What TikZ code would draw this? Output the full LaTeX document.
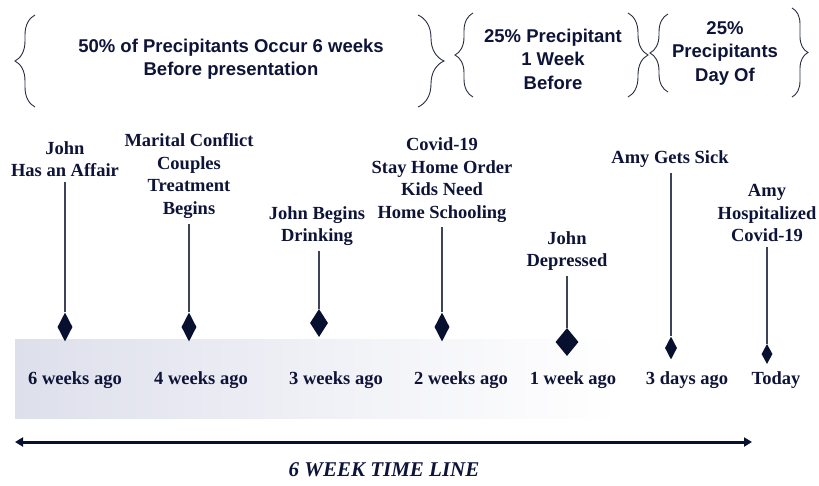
\documentclass[tikz,border=0pt]{standalone}
\usepackage{fontspec}
\setmainfont{Liberation Serif}
\newfontfamily\sansf{Liberation Sans}
\usetikzlibrary{shapes.geometric,decorations.pathreplacing,arrows.meta}
\definecolor{navy}{RGB}{14,19,56}
\definecolor{dmd}{RGB}{8,16,48}
\definecolor{stemc}{RGB}{62,68,88}
\definecolor{bracec}{RGB}{40,44,64}
\definecolor{band}{RGB}{221,223,235}
\tikzset{
  ev/.style={align=center,font=\fontsize{18.5}{22.5}\selectfont\bfseries,text=navy,inner sep=0pt,inner ysep=5pt},
  tl/.style={font=\fontsize{18.5}{22.5}\selectfont\bfseries,text=navy,inner sep=0pt},
  top/.style={align=center,font=\sansf\fontsize{18.5}{23.5}\selectfont\bfseries,text=navy,inner sep=0pt},
  dia/.style={diamond,fill=dmd,draw=none,inner sep=0pt},
  stem/.style={draw=stemc,line width=1.2pt},
  br/.style={draw=bracec,line width=0.9pt,decorate,decoration={brace,amplitude=#1,aspect=0.5}}
}
\begin{document}
\begin{tikzpicture}[x=1pt,y=-1pt]
\useasboundingbox (0,0) rectangle (819,485);
% band
\shade[left color=band,right color=white,middle color=band!45!white] (15,339) rectangle (620,418);
% braces
\draw[br=20] (35,107) -- (35,15);
\draw[br=26] (418,15) -- (418,107);
\draw[br=18] (473,97) -- (473,13);
\draw[br=20] (628,13) -- (628,97);
\draw[br=18] (668,92) -- (668,14);
\draw[br=16] (792,8) -- (792,97);
% top texts
\node[top] (g1) at (231,59) {50\% of Precipitants Occur 6 weeks\\Before presentation};
\node[top] (g2) at (553,59) {25\% Precipitant\\1 Week\\Before};
\node[top] (g3) at (725,53) {25\%\\Precipitants\\Day Of};
% diamonds
\node[dia,minimum width=15pt,minimum height=29pt] (d1) at (65,327) {};
\node[dia,minimum width=15pt,minimum height=29pt] (d2) at (189,327) {};
\node[dia,minimum width=18pt,minimum height=28pt] (d3) at (319,323) {};
\node[dia,minimum width=15pt,minimum height=29pt] (d4) at (442,327) {};
\node[dia,minimum width=23pt,minimum height=28pt] (d5) at (567,342) {};
\node[dia,minimum width=12pt,minimum height=23pt] (d6) at (671,348) {};
\node[dia,minimum width=11pt,minimum height=20pt] (d7) at (767,354) {};
% event labels
\node[ev] (e1) at (65,159) {John\\Has an Affair};
\node[ev] (e2) at (189,176) {Marital Conflict\\Couples\\Treatment\\Begins};
\node[ev] (e3) at (317,226) {John Begins\\Drinking};
\node[ev] (e4) at (442,180) {Covid-19\\Stay Home Order\\Kids Need\\Home Schooling};
\node[ev] (e5) at (567,251) {John\\Depressed};
\node[ev] (e6) at (670,159) {Amy Gets Sick};
\node[ev] (e7) at (767,213) {Amy\\Hospitalized\\Covid-19};
% stems
\draw[stem] (d1.north) -- (d1.north |- e1.south);
\draw[stem] (d2.north) -- (d2.north |- e2.south);
\draw[stem] (d3.north) -- (d3.north |- e3.south);
\draw[stem] (d4.north) -- (d4.north |- e4.south);
\draw[stem] (d5.north) -- (d5.north |- e5.south);
\draw[stem] (d6.north) -- (d6.north |- e6.south);
\draw[stem] (d7.north) -- (d7.north |- e7.south);
% time labels
\node[tl] (t1) at (75,380) {6 weeks ago};
\node[tl] (t2) at (201,380) {4 weeks ago};
\node[tl] (t3) at (336,380) {3 weeks ago};
\node[tl] (t4) at (461,380) {2 weeks ago};
\node[tl] (t5) at (573,380) {1 week ago};
\node[tl] (t6) at (687,380) {3 days ago};
\node[tl] (t7) at (776,380) {Today};
% arrow
\coordinate (al) at (15,442);
\coordinate (ar) at (752,442);
\draw[draw=dmd,line width=3pt,{Triangle[length=8pt,width=9pt]}-{Triangle[length=8pt,width=9pt]}] (al) -- (ar);
\node[font=\fontsize{21}{24}\selectfont\bfseries\itshape,text=navy,inner sep=0pt] (cap) at (384,470) {6 WEEK TIME LINE};
\end{tikzpicture}
\end{document}
